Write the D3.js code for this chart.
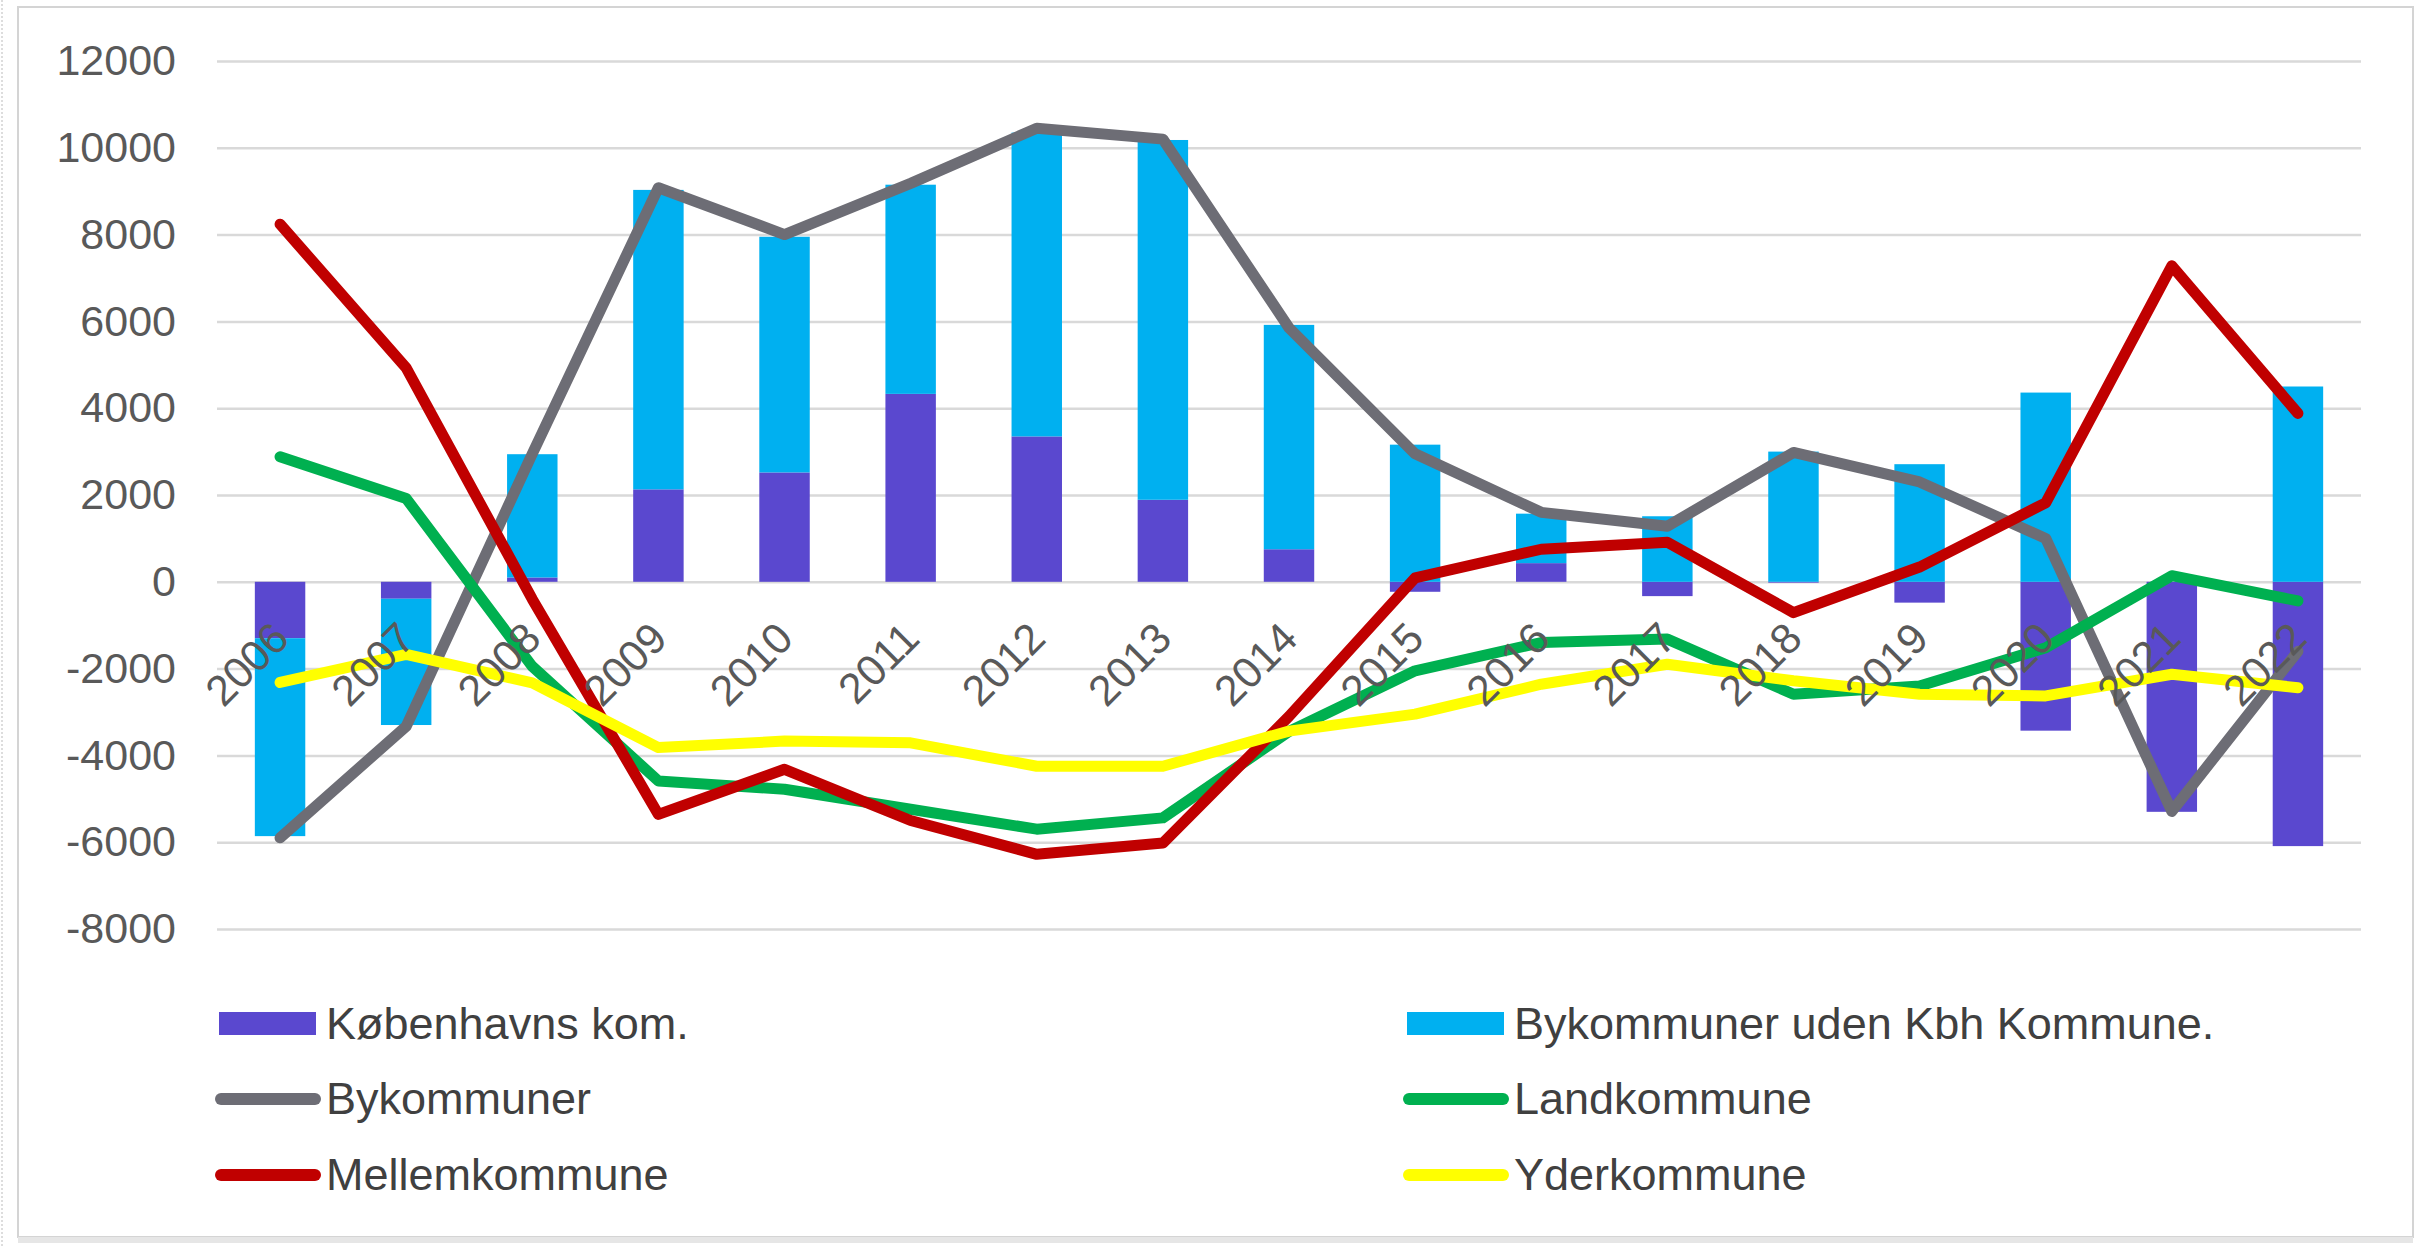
<!DOCTYPE html>
<html>
<head>
<meta charset="utf-8">
<script src="https://cdn.jsdelivr.net/npm/d3@7"></script>
<style>
  body { margin: 0; background: #fff; }
  text { font-family: "Liberation Sans", Arial, sans-serif; }
</style>
</head>
<body>
<div id="chart"></div>
<script>
/* Nettoflytning: stacked bars + lines, 2006-2022 */

const years = ["2006","2007","2008","2009","2010","2011","2012","2013","2014",
               "2015","2016","2017","2018","2019","2020","2021","2022"];

const kbhKom     = [-1300, -390, 100, 2130, 2520, 4330, 3350, 1890, 750, -230, 430, -330, -20, -480, -3430, -5300, -6090];
const bykomUden  = [-4560, -2910, 2840, 6900, 5430, 4820, 7000, 8290, 5170, 3160, 1140, 1510, 3000, 2710, 4360, 0, 4500];
const bykommuner = [-5900, -3330, 2950, 9080, 8000, 9180, 10450, 10200, 5850, 2950, 1600, 1280, 2980, 2300, 1000, -5290, -1600];
const landkom    = [2880, 1920, -1950, -4590, -4780, -5240, -5700, -5440, -3450, -2050, -1400, -1320, -2590, -2400, -1520, 140, -440];
const mellemkom  = [8240, 4930, -400, -5360, -4320, -5500, -6280, -6020, -3100, 90, 750, 910, -710, 340, 1820, 7280, 3880];
const yderkom    = [-2320, -1670, -2330, -3820, -3670, -3710, -4250, -4250, -3440, -3050, -2360, -1900, -2280, -2590, -2630, -2130, -2440];

const yTicks = [-8000, -6000, -4000, -2000, 0, 2000, 4000, 6000, 8000, 10000, 12000];

const barSeries = [
    {key: "kbh",  name: "Københavns kom.", values: kbhKom, color: "#5a48cf"},
    {key: "uden", name: "Bykommuner uden Kbh Kommune.", values: bykomUden, color: "#00b0f0"}
];
const lineSeries = [
    {name: "Bykommuner", values: bykommuner, color: "#6d6d75"},
    {name: "Landkommune", values: landkom, color: "#00b050"},
    {name: "Mellemkommune", values: mellemkom, color: "#c00000"},
    {name: "Yderkommune", values: yderkom, color: "#ffff00"}
];

const width = 2433,
    height = 1246,
    margin = ({top: 61, right: 72, bottom: 317, left: 217});

let svg = d3.select("#chart")
    .append("svg")
    .attr("width", width)
    .attr("height", height)
    .attr("viewBox", [0, 0, width, height]);

// frame
svg.append("rect")
    .attr("x", 18).attr("y", 7)
    .attr("width", 2395).attr("height", 1230)
    .attr("fill", "#fff")
    .attr("stroke", "#d4d4d4")
    .attr("stroke-width", 2);
svg.append("line")
    .attr("x1", 18).attr("x2", 2413)
    .attr("y1", 1240).attr("y2", 1240)
    .attr("stroke", "#e6e6e6")
    .attr("stroke-width", 6);
svg.append("line")
    .attr("x1", 2).attr("x2", 2)
    .attr("y1", 0).attr("y2", height)
    .attr("stroke", "#bbb")
    .attr("stroke-dasharray", "2,2");

let x = d3.scaleBand()
    .domain(years)
    .range([margin.left, width - margin.right])
    .paddingInner(0.6)
    .paddingOuter(0.3);

let y = d3.scaleLinear()
    .domain([-8000, 12000])
    .range([height - margin.bottom, margin.top]);

// gridlines + y labels (plain hyphen for negatives, as in Excel)
const yAxis = g => g
    .attr("transform", `translate(${margin.left},0)`)
    .call(d3.axisLeft(y).tickValues(yTicks).tickFormat(d => String(d))
        .tickSize(-(width - margin.left - margin.right)).tickPadding(41))
    .call(g => g.select(".domain").remove())
    .call(g => g.selectAll(".tick line").attr("stroke", "#d9d9d9").attr("stroke-width", 2.5))
    .call(g => g.selectAll(".tick text")
        .attr("fill", "#595959")
        .style("font-size", "43px")
        .style("font-family", "'Liberation Sans', Arial, sans-serif"));

svg.append("g").call(yAxis);

// stacked bars
let table = years.map((yr, i) => ({year: yr, kbh: kbhKom[i], uden: bykomUden[i]}));

let stacked = d3.stack()
    .keys(barSeries.map(s => s.key))
    .offset(d3.stackOffsetDiverging)(table);

let layer = svg.selectAll(".layer")
    .data(stacked)
    .join("g")
    .attr("class", "layer")
    .attr("fill", (d, i) => barSeries[i].color);

layer.selectAll("rect")
    .data(d => d)
    .join("rect")
    .attr("x", d => x(d.data.year))
    .attr("width", x.bandwidth())
    .attr("y", d => y(Math.max(d[0], d[1])))
    .attr("height", d => Math.abs(y(d[0]) - y(d[1])));

// lines
let line = d3.line()
    .x((d, i) => x(years[i]) + x.bandwidth() / 2)
    .y(d => y(d));

svg.selectAll(".series")
    .data(lineSeries)
    .join("path")
    .attr("class", "series")
    .attr("fill", "none")
    .attr("stroke", d => d.color)
    .attr("stroke-width", 11)
    .attr("stroke-linejoin", "round")
    .attr("stroke-linecap", "round")
    .attr("d", d => line(d.values));

// x labels, rotated
svg.append("g")
    .selectAll("text")
    .data(years)
    .join("text")
    .attr("transform", d => `translate(${x(d) + x.bandwidth() / 2 + 11},${y(0) + 59}) rotate(-45)`)
    .attr("text-anchor", "end")
    .attr("fill", "#595959")
    .style("font-size", "43px")
    .text(d => d);

// legend, two columns, filled row-wise
const legendItems = [
    {name: barSeries[0].name, color: barSeries[0].color, type: "bar"},
    {name: barSeries[1].name, color: barSeries[1].color, type: "bar"},
    ...lineSeries.map(s => ({name: s.name, color: s.color, type: "line"}))
];
const colX = [217, 1405],
    rowY = [1024, 1099, 1175];

let legend = svg.append("g")
    .selectAll("g")
    .data(legendItems)
    .join("g")
    .attr("transform", (d, i) => `translate(${colX[i % 2]},${rowY[Math.floor(i / 2)]})`);

legend.filter(d => d.type === "bar")
    .append("rect")
    .attr("x", 2).attr("y", -12)
    .attr("width", 97).attr("height", 23)
    .attr("fill", d => d.color);

legend.filter(d => d.type === "line")
    .append("line")
    .attr("x1", 4).attr("x2", 98)
    .attr("stroke", d => d.color)
    .attr("stroke-width", 12)
    .attr("stroke-linecap", "round");

legend.append("text")
    .attr("x", 109)
    .attr("y", 15)
    .attr("fill", "#404040")
    .style("font-size", "45px")
    .text(d => d.name);
</script>
</body>
</html>
